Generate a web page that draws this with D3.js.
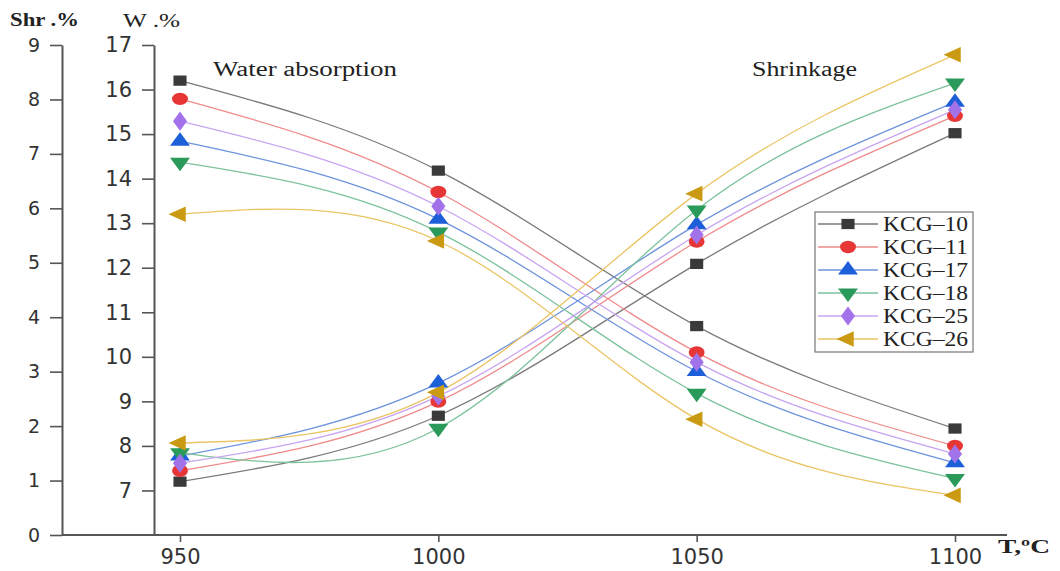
<!DOCTYPE html>
<html lang="en">
  <head>
    <meta charset="utf-8"/>
    <script src="https://d3js.org/d3.v7.min.js"></script>
    <title>Water absorption and shrinkage</title>
    <style>
      body { margin: 0; background: #fff; }
      .axis path, .axis line { stroke: #555; }
      .axis path { stroke-width: 2px; }
      .axis line { stroke-width: 1.6px; }
      .axis text { fill: #333; font-family: "DejaVu Sans", sans-serif; }
    </style>
  </head>
  <body>
    <svg id="svg_main"></svg>
    <script>
      const width = 1060;
      const height = 571;

      // data
      const temps = [950, 1000, 1050, 1100];
      const names = ["KCG–10", "KCG–11", "KCG–17", "KCG–18", "KCG–25", "KCG–26"];
      const water = [
        [16.20, 14.18, 10.69, 8.39],
        [15.79, 13.70, 10.10, 8.00],
        [14.84, 13.09, 9.67, 7.62],
        [14.37, 12.80, 9.18, 7.27],
        [15.29, 13.38, 9.88, 7.82],
        [13.20, 12.60, 8.60, 6.89]
      ];
      const shrink = [
        [0.98, 2.19, 4.98, 7.38],
        [1.18, 2.45, 5.39, 7.70],
        [1.45, 2.79, 5.70, 7.95],
        [1.51, 1.96, 5.97, 8.30],
        [1.32, 2.55, 5.51, 7.81],
        [1.69, 2.62, 6.27, 8.82]
      ];
      const shrTicks = [0, 1, 2, 3, 4, 5, 6, 7, 8, 9];
      const wTicks = [7, 8, 9, 10, 11, 12, 13, 14, 15, 16, 17];

      const markerColors = ["#3a3a3a", "#e63636", "#1c5fd8", "#2a9a5a", "#a272ea", "#c99a12"];
      const lineColors = ["#7a7a7a", "#f08a8a", "#6d93dc", "#7cc29c", "#c8a4f2", "#ebc565"];
      const shapes = [
        {type: d3.symbolSquare, rot: 0},
        {type: d3.symbolCircle, rot: 0},
        {type: d3.symbolTriangle, rot: 0},
        {type: d3.symbolTriangle, rot: 180},
        {type: d3.symbolDiamond, rot: 0},
        {type: d3.symbolTriangle, rot: -90}
      ];

      const xScale = d3.scaleLinear().domain([950, 1100]).range([180, 955]);
      const shrScale = d3.scaleLinear().domain([0, 9]).range([535, 45]);
      const wScale = d3.scaleLinear().domain([6, 17]).range([535, 45]);

      const svg = d3.select("#svg_main")
          .attr("width", width)
          .attr("height", height);

      // x axis
      svg.append("line")
          .attr("x1", 62).attr("x2", 1007)
          .attr("y1", 535).attr("y2", 535)
          .attr("stroke", "#555").attr("stroke-width", 2);
      const xAxis_g = svg.append("g")
          .attr("class", "axis")
          .attr("transform", "translate(0,535)")
          .call(d3.axisBottom(xScale).tickValues(temps).tickFormat(d3.format("d")).tickSize(7).tickSizeOuter(0).tickPadding(7));
      xAxis_g.select(".domain").remove();
      xAxis_g.selectAll("text").attr("font-size", 21).attr("dy", "0.72em");

      // Shr axis
      const shrAxis_g = svg.append("g")
          .attr("class", "axis")
          .attr("transform", "translate(62,0)")
          .call(d3.axisLeft(shrScale).tickValues(shrTicks).tickSize(12).tickSizeOuter(0).tickPadding(10));
      shrAxis_g.selectAll("text").attr("font-size", 19);

      // W axis
      const wAxis_g = svg.append("g")
          .attr("class", "axis")
          .attr("transform", "translate(154,0)")
          .call(d3.axisLeft(wScale).tickValues(wTicks).tickSize(12).tickSizeOuter(0).tickPadding(10));
      wAxis_g.selectAll("text").attr("font-size", 21);

      // serif labels, stretched to the picture's widths
      function label(txt, x, y, size, len, bold) {
        svg.append("text")
            .attr("x", x).attr("y", y)
            .attr("font-family", "'Liberation Serif', 'Times New Roman', serif")
            .attr("font-size", size)
            .attr("font-weight", bold ? "bold" : "normal")
            .attr("fill", "#222")
            .attr("textLength", len)
            .attr("lengthAdjust", "spacingAndGlyphs")
            .text(txt);
      }
      label("Shr .%", 10, 26, 19, 69, true);
      label("W .%", 123, 27, 19, 57, false);
      label("Water absorption", 213, 76, 20, 184, false);
      label("Shrinkage", 752, 76, 20, 105, false);
      label("T,ºC", 998, 553, 19, 52, true);

      const line = d3.line()
          .curve(d3.curveNatural)
          .x(function(d, i) { return xScale(temps[i]); });

      function marker(sel, i) {
        sel.attr("d", d3.symbol().type(shapes[i].type).size(shapes[i].type === d3.symbolCircle ? 150 : 130))
            .attr("fill", markerColors[i]);
      }

      for (let i = 0; i < names.length; i++) {
        svg.append("path")
            .datum(water[i])
            .attr("fill", "none")
            .attr("stroke", lineColors[i])
            .attr("stroke-width", 1.3)
            .attr("d", line.y(function(d) { return wScale(d); }));
        svg.append("path")
            .datum(shrink[i])
            .attr("fill", "none")
            .attr("stroke", lineColors[i])
            .attr("stroke-width", 1.3)
            .attr("d", line.y(function(d) { return shrScale(d); }));
      }

      for (let i = 0; i < names.length; i++) {
        svg.selectAll(null)
            .data(water[i])
            .enter().append("path")
            .attr("transform", function(d, j) {
              return "translate(" + xScale(temps[j]) + "," + wScale(d) + ") scale(1.15,0.9) rotate(" + shapes[i].rot + ")";
            })
            .call(marker, i);
        svg.selectAll(null)
            .data(shrink[i])
            .enter().append("path")
            .attr("transform", function(d, j) {
              return "translate(" + xScale(temps[j]) + "," + shrScale(d) + ") scale(1.15,0.9) rotate(" + shapes[i].rot + ")";
            })
            .call(marker, i);
      }

      // legend
      const legend = svg.append("g");
      legend.append("rect")
          .attr("x", 815).attr("y", 212)
          .attr("width", 158).attr("height", 140)
          .attr("fill", "#fff")
          .attr("stroke", "#777").attr("stroke-width", 1.2);
      for (let i = 0; i < names.length; i++) {
        const y = 224 + i * 23;
        legend.append("line")
            .attr("x1", 818).attr("x2", 878)
            .attr("y1", y).attr("y2", y)
            .attr("stroke", lineColors[i]).attr("stroke-width", 1.3);
        legend.append("path")
            .attr("transform", "translate(848," + y + ") scale(1.15,0.9) rotate(" + shapes[i].rot + ")")
            .call(marker, i);
        legend.append("text")
            .attr("x", 883).attr("y", y + 7)
            .attr("font-family", "'Liberation Serif', 'Times New Roman', serif")
            .attr("font-size", 20)
            .attr("fill", "#222")
            .attr("textLength", 85)
            .attr("lengthAdjust", "spacingAndGlyphs")
            .text(names[i]);
      }
    </script>
  </body>
</html>
